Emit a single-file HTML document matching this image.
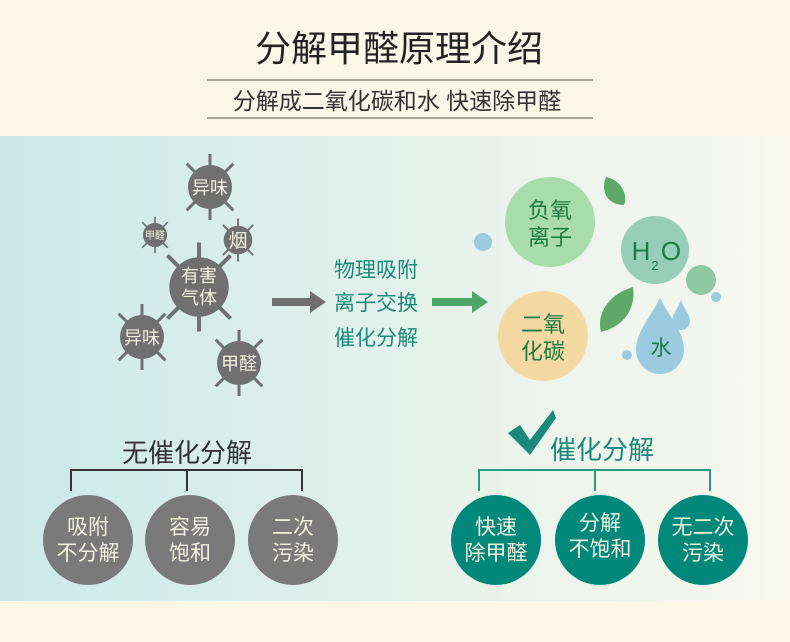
<!DOCTYPE html><html><head><meta charset="utf-8"><style>
body{margin:0;width:790px;height:642px;overflow:hidden;background:#faf7e8;font-family:"Liberation Sans","Noto Sans CJK SC",sans-serif}
</style></head><body>
<svg width="790" height="642" xmlns="http://www.w3.org/2000/svg" style="position:absolute;left:0;top:0">
<defs><linearGradient id="bg" x1="0" x2="1" y1="0" y2="0"><stop offset="0" stop-color="#cbe9e7"/><stop offset="0.55" stop-color="#e6f2ec"/><stop offset="1" stop-color="#f8f8ee"/></linearGradient></defs>
<rect x="0" y="0" width="790" height="642" fill="#faf7e8"/>
<rect x="0" y="136" width="790" height="465" fill="url(#bg)"/>
<g font-family="Liberation Sans,Noto Sans CJK SC,sans-serif">
<text x="399" y="61" font-size="36" text-anchor="middle" fill="#222">分解甲醛原理介绍</text>
<line x1="207" y1="80" x2="593" y2="80" stroke="#555" stroke-width="1"/>
<text x="397" y="109" font-size="23" text-anchor="middle" fill="#333">分解成二氧化碳和水 快速除甲醛</text>
<line x1="207" y1="118" x2="593" y2="118" stroke="#555" stroke-width="1"/>
<g stroke="#707070" stroke-width="3" fill="#707070">
<g transform="translate(210,187)"><g id="sp"><line x1="0" y1="-33" x2="0" y2="33"/><line x1="-33" y1="0" x2="33" y2="0" transform="rotate(45)"/><line x1="-33" y1="0" x2="33" y2="0" transform="rotate(-45)"/></g><circle r="22" stroke="none"/></g>
<g transform="translate(155,235) scale(0.55)"><use href="#sp"/><circle r="22" stroke="none"/></g>
<g transform="translate(238,240) scale(0.65)"><use href="#sp"/><circle r="22" stroke="none"/></g>
<g transform="translate(199,287) scale(1.35)"><use href="#sp"/><circle r="22" stroke="none"/></g>
<g transform="translate(142,337)"><use href="#sp"/><circle r="22" stroke="none"/></g>
<g transform="translate(239,363)"><use href="#sp"/><circle r="22" stroke="none"/></g>
</g>
<g fill="#f3f0e0" text-anchor="middle">
<text x="210" y="194" font-size="18">异味</text>
<text x="155" y="239" font-size="10">甲醛</text>
<text x="238" y="247" font-size="19">烟</text>
<text x="199" y="282" font-size="18">有害</text>
<text x="199" y="304" font-size="18">气体</text>
<text x="142" y="344" font-size="18">异味</text>
<text x="239" y="370" font-size="18">甲醛</text>
</g>
<polygon points="272,298 310,298 310,291 326,302 310,313 310,306 272,306" fill="#707070"/>
<g fill="#1a8a7a" font-size="21" text-anchor="middle"><text x="376" y="277">物理吸附</text><text x="376" y="310">离子交换</text><text x="376" y="345">催化分解</text></g>
<polygon points="432,298 472,298 472,291 488,302 472,313 472,306 432,306" fill="#4ea56a"/>
<circle cx="550" cy="222" r="45" fill="#a9dcab"/>
<circle cx="655" cy="250" r="34" fill="#97ceb9"/>
<circle cx="543" cy="336" r="45" fill="#f4d9a2"/>
<circle cx="483" cy="242" r="9" fill="#9ccbe0"/>
<circle cx="701" cy="280" r="15" fill="#8fc9a4"/>
<circle cx="716" cy="297" r="5" fill="#9ccbe0"/>
<circle cx="627" cy="355" r="5" fill="#9ccbe0"/>
<path d="M660,298 C670,318 684,332 684,350 A24,24 0 0 1 636,350 C636,332 650,318 660,298Z" fill="#9ccbe0"/>
<path d="M681,300 C685,310 690,315 690,321 A9,9 0 0 1 672,321 C672,315 677,310 681,300Z" fill="#9ccbe0"/>
<path d="M606,177 C622,180 628,196 624,205 C608,205 600,192 606,177Z" fill="#5ea868"/>
<path d="M633,287 C636,306 626,326 601,332 C596,312 610,294 633,287Z" fill="#5ea868"/>
<g fill="#1e7a45" text-anchor="middle"><text x="550" y="218" font-size="22">负氧</text><text x="550" y="245" font-size="22">离子</text>
<text x="543" y="332" font-size="22">二氧</text><text x="543" y="359" font-size="22">化碳</text>
<text x="641" y="260" font-size="26">H</text><text x="655" y="270" font-size="13">2</text><text x="671" y="260" font-size="26">O</text>
<text x="661" y="355" font-size="21">水</text></g>
<text x="187" y="462" font-size="26" text-anchor="middle" fill="#333">无催化分解</text>
<path d="M71,491 V470 H302 V491 M187,470 V491" fill="none" stroke="#333" stroke-width="2"/>
<g fill="#7a7a7a"><ellipse cx="88" cy="540" rx="45" ry="45"/><ellipse cx="190" cy="540" rx="45" ry="45"/><ellipse cx="293" cy="540" rx="45" ry="45"/></g>
<g fill="#f3f0e0" font-size="21" text-anchor="middle"><text x="88" y="534">吸附</text><text x="88" y="560">不分解</text><text x="190" y="534">容易</text><text x="190" y="560">饱和</text><text x="293" y="534">二次</text><text x="293" y="560">污染</text></g>
<path d="M508,433 L520,425 L530,440 L553,410 L556,418 L530,455 Z" fill="#1a8a7a"/>
<text x="602" y="459" font-size="26" text-anchor="middle" fill="#1a8a7a">催化分解</text>
<path d="M479,491 V470 H710 V491 M595,470 V491" fill="none" stroke="#2a9a80" stroke-width="2"/>
<g fill="#00897b"><ellipse cx="496" cy="540" rx="45" ry="45"/><ellipse cx="600" cy="540" rx="45" ry="45"/><ellipse cx="703" cy="540" rx="45" ry="45"/></g>
<g fill="#f3f0e0" font-size="21" text-anchor="middle"><text x="496" y="534">快速</text><text x="496" y="560">除甲醛</text><text x="600" y="530">分解</text><text x="600" y="556">不饱和</text><text x="703" y="534">无二次</text><text x="703" y="560">污染</text></g>
</g></svg></body></html>
